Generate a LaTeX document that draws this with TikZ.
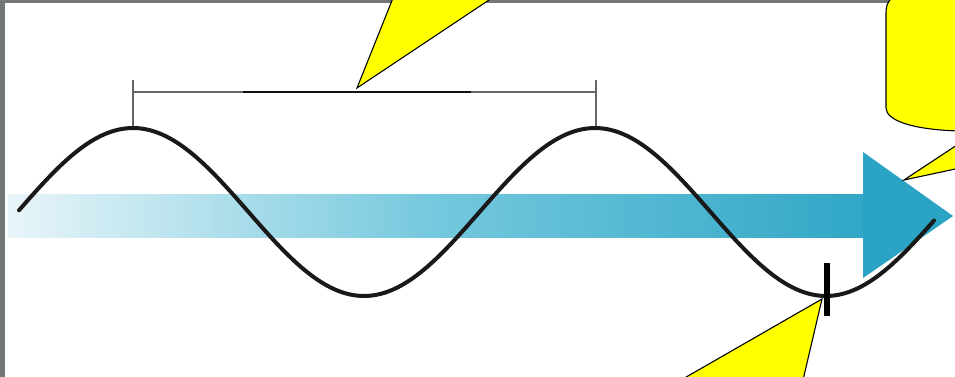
\documentclass[tikz,border=0pt]{standalone}
\definecolor{bordergray}{HTML}{737777}
\definecolor{headblue}{HTML}{2BA3C4}
\definecolor{fadeblue}{HTML}{E8F5F9}
\definecolor{midblue}{HTML}{74C8DD}
\definecolor{endblue}{HTML}{31A7C7}
\definecolor{barblack}{HTML}{111111}
\definecolor{bargray}{HTML}{666666}
\definecolor{calloutyellow}{HTML}{FFFF00}
\tikzset{
  callout/.style={fill=calloutyellow, draw=black, line width=1.1pt, line join=miter},
  wave/.style={draw=black!90, line width=4pt, line cap=round},
  barline/.style={line width=2.2pt},
}
\begin{document}
\begin{tikzpicture}[x=1pt,y=-1pt]
\useasboundingbox (0,0) rectangle (955,377);
\clip (0,0) rectangle (955,377);
% frame
\fill[bordergray] (0,0) rectangle (955,377);
\fill[white] (5,3) rectangle (955,377);
% arrow
\shade[left color=fadeblue, right color=endblue, middle color=midblue] (8,194) rectangle (864,237);
\fill[headblue] (863,152) -- (953,216) -- (863,278) -- cycle;
% scale bar
\draw[barline, bargray] (133,92) -- (596,92);
\draw[barline, barblack] (243,92) -- (471,92);
\draw[barline, bargray] (133,80) -- (133,127);
\draw[barline, bargray] (596,80) -- (596,127);
% wave
\draw[wave] plot[smooth, samples=120, domain=19:934] ({\x},{212-84*cos((\x-133)/462*360)});
% tick at trough
\draw[line width=6pt, black] (827,263) -- (827,316);
% callouts
\draw[callout] (357,88) -- (393,-2) -- (492,-2) -- cycle;
\draw[callout] (822,299) -- (803,380) -- (681,380) -- cycle;
\draw[callout] (904,180) -- (960,143) -- (960,168) -- cycle;
\draw[callout] (960,-3) -- (893,-3) .. controls (887,2) and (886,6) .. (886,14)
  -- (886,108) .. controls (886,121) and (915,130) .. (960,131) -- cycle;
\end{tikzpicture}
\end{document}
